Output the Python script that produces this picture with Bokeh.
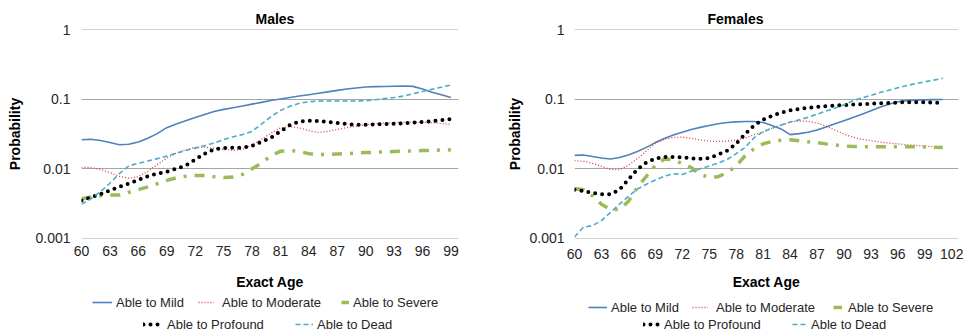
from bokeh.plotting import figure
from bokeh.models import (Range1d, FixedTicker, CustomJSTickFormatter, Legend,
                          LegendItem, ColumnDataSource)
from bokeh.layouts import row, column
from bokeh.embed import file_html
from bokeh.resources import INLINE

FONT = "Liberation Sans"

# ---------------- data ----------------
SERIES_NAMES = ["Able to Mild", "Able to Moderate", "Able to Severe",
                "Able to Profound", "Able to Dead"]
Y_TICKS = [0.001, 0.01, 0.1, 1]

MALE_AGES = list(range(60, 100))
MALE_TICKS = [60, 63, 66, 69, 72, 75, 78, 81, 84, 87, 90, 93, 96, 99]
MALE_MILD = [0.0262, 0.0266, 0.0255, 0.0238, 0.0222, 0.0225, 0.0243, 0.0275, 0.0320, 0.0390,
             0.0440, 0.0490, 0.0545, 0.0605, 0.0665, 0.0715, 0.0755, 0.0800, 0.0850, 0.0900,
             0.0960, 0.1010, 0.1060, 0.1110, 0.1160, 0.1215, 0.1275, 0.1340, 0.1400, 0.1450,
             0.1500, 0.1515, 0.1525, 0.1535, 0.1545, 0.1530, 0.1400, 0.1260, 0.1160, 0.1060]
MALE_MODERATE = [0.0105, 0.0104, 0.0098, 0.0088, 0.0078, 0.0073, 0.0077, 0.0092, 0.0115, 0.0142,
                 0.0168, 0.0188, 0.0203, 0.0205, 0.0197, 0.0190, 0.0184, 0.0190, 0.0220, 0.0265,
                 0.0325, 0.0385, 0.0405, 0.0385, 0.0355, 0.0333, 0.0345, 0.0368, 0.0390, 0.0412,
                 0.0430, 0.0445, 0.0458, 0.0463, 0.0467, 0.0467, 0.0465, 0.0458, 0.0448, 0.0437]
MALE_SEVERE = [0.0037, 0.0039, 0.0041, 0.0042, 0.0042, 0.0046, 0.0050, 0.0055, 0.0061, 0.0068,
               0.0074, 0.0078, 0.0080, 0.0080, 0.0077, 0.0075, 0.0076, 0.0083, 0.0100, 0.0120,
               0.0155, 0.0178, 0.0183, 0.0177, 0.0165, 0.0160, 0.0161, 0.0163, 0.0165, 0.0168,
               0.0171, 0.0173, 0.0175, 0.0177, 0.0179, 0.0181, 0.0183, 0.0184, 0.0186, 0.0187]
MALE_PROFOUND = [0.0035, 0.0039, 0.0043, 0.0049, 0.0055, 0.0061, 0.0069, 0.0078, 0.0085, 0.0091,
                 0.0100, 0.0111, 0.0135, 0.0165, 0.0190, 0.0198, 0.0200, 0.0202, 0.0212, 0.0245,
                 0.0280, 0.0345, 0.0425, 0.0480, 0.0490, 0.0485, 0.0470, 0.0455, 0.0440, 0.0430,
                 0.0430, 0.0435, 0.0440, 0.0445, 0.0450, 0.0460, 0.0470, 0.0482, 0.0500, 0.0520]
MALE_DEAD = [0.0031, 0.0037, 0.0047, 0.0062, 0.0085, 0.0110, 0.0120, 0.0129, 0.0140, 0.0152,
             0.0167, 0.0183, 0.0198, 0.0214, 0.0235, 0.0262, 0.0288, 0.0310, 0.0345, 0.0440,
             0.0560, 0.0690, 0.0790, 0.0875, 0.0920, 0.0940, 0.0945, 0.0945, 0.0945, 0.0945,
             0.0950, 0.0980, 0.1020, 0.1060, 0.1110, 0.1200, 0.1290, 0.1390, 0.1490, 0.1600]

FEMALE_AGES = list(range(60, 102))
FEMALE_TICKS = [60, 63, 66, 69, 72, 75, 78, 81, 84, 87, 90, 93, 96, 99, 102]
FEMALE_MILD = [0.0156, 0.0158, 0.0150, 0.0143, 0.0138, 0.0145, 0.0158, 0.0177, 0.0203, 0.0238,
               0.0272, 0.0306, 0.0336, 0.0366, 0.0394, 0.0420, 0.0444, 0.0462, 0.0473, 0.0478,
               0.0478, 0.0462, 0.0420, 0.0374, 0.0310, 0.0320, 0.0335, 0.0360, 0.0400, 0.0445,
               0.0490, 0.0545, 0.0610, 0.0685, 0.0765, 0.0845, 0.0920, 0.0955, 0.0970, 0.0980,
               0.0985, 0.0990]
FEMALE_MODERATE = [0.0131, 0.0128, 0.0120, 0.0108, 0.0098, 0.0097, 0.0112, 0.0140, 0.0180, 0.0232,
                   0.0265, 0.0282, 0.0285, 0.0275, 0.0260, 0.0250, 0.0247, 0.0250, 0.0260, 0.0275,
                   0.0310, 0.0340, 0.0385, 0.0420, 0.0470, 0.0488, 0.0480, 0.0455, 0.0410, 0.0360,
                   0.0315, 0.0285, 0.0265, 0.0254, 0.0242, 0.0234, 0.0228, 0.0222, 0.0217, 0.0212,
                   0.0207, 0.0204]
FEMALE_SEVERE = [0.0052, 0.0050, 0.0041, 0.0031, 0.0026, 0.0026, 0.0034, 0.0054, 0.0078, 0.0112,
                 0.0138, 0.0135, 0.0119, 0.0104, 0.0083, 0.0075, 0.0077, 0.0088, 0.0110, 0.0154,
                 0.0195, 0.0228, 0.0248, 0.0258, 0.0262, 0.0253, 0.0245, 0.0238, 0.0228, 0.0220,
                 0.0213, 0.0209, 0.0208, 0.0208, 0.0208, 0.0208, 0.0208, 0.0208, 0.0207, 0.0206,
                 0.0204, 0.0203]
FEMALE_PROFOUND = [0.0050, 0.0048, 0.0045, 0.0043, 0.0043, 0.0050, 0.0070, 0.0098, 0.0123, 0.0140,
                   0.0148, 0.0148, 0.0146, 0.0141, 0.0139, 0.0142, 0.0160, 0.0182, 0.0230, 0.0315,
                   0.0420, 0.0510, 0.0580, 0.0640, 0.0690, 0.0725, 0.0755, 0.0777, 0.0792, 0.0808,
                   0.0825, 0.0838, 0.0849, 0.0860, 0.0872, 0.0884, 0.0897, 0.0905, 0.0907, 0.0900,
                   0.0890, 0.0880]
FEMALE_DEAD = [0.00105, 0.00145, 0.00152, 0.00180, 0.00235, 0.0031, 0.0040, 0.0051, 0.0060, 0.0069,
               0.0078, 0.0085, 0.0083, 0.0092, 0.0100, 0.0110, 0.0121, 0.0136, 0.0165, 0.0203,
               0.0280, 0.0340, 0.0385, 0.0425, 0.0470, 0.0505, 0.0550, 0.0610, 0.0675, 0.0745,
               0.0835, 0.0950, 0.1040, 0.1140, 0.1250, 0.1350, 0.1460, 0.1570, 0.1680, 0.1780,
               0.1880, 0.2000]

# ---------------- styles ----------------
STYLES = [
    dict(line_color="#4F81BD", line_width=1.6),
    dict(line_color="#E0393E", line_width=1.3, line_dash="1 2"),
    dict(line_color="#9BBB59", line_width=3.5, line_dash="10 8 3 8"),
    dict(line_color="#000000", line_width=4, line_dash="0 7", line_cap="round"),
    dict(line_color="#4BACC6", line_width=1.6, line_dash="5 3"),
]
TEXT_COLOR = "#262626"
TOP_H = 292
LEG_H = 40
FRAME_TOP = 29
FRAME_BOTTOM = 238


def make_panel(title, ages, values, xmax, ticks, width, height, border_lr,
               title_offset, title_standoff, ytick_standoff, ylab_standoff,
               xtick_standoff, xlab_standoff):
    bl, br = border_lr
    p = figure(width=width, height=height, y_axis_type="log",
               x_range=Range1d(60, xmax), y_range=Range1d(0.000995, 1.005),
               output_backend="svg", toolbar_location=None,
               min_border_left=bl, min_border_right=br,
               min_border_top=FRAME_TOP, min_border_bottom=height - FRAME_BOTTOM,
               title=title)
    p.outline_line_color = None
    p.background_fill_color = "white"
    p.border_fill_color = "white"

    p.title.align = "left"
    p.title.offset = title_offset
    p.title.standoff = title_standoff
    p.title.vertical_align = "bottom"
    p.title.text_font = FONT
    p.title.text_font_size = "14px"
    p.title.text_font_style = "bold"
    p.title.text_color = "#000000"

    yt = FixedTicker(ticks=Y_TICKS)
    p.yaxis.ticker = yt
    p.ygrid.ticker = yt
    p.yaxis.formatter = CustomJSTickFormatter(code="return String(tick);")
    p.xaxis.ticker = FixedTicker(ticks=ticks)

    for ax in (p.xaxis, p.yaxis):
        ax.axis_line_color = None
        ax.major_tick_line_color = None
        ax.minor_tick_line_color = None
        ax.major_label_text_font = FONT
        ax.major_label_text_font_size = "14px"
        ax.major_label_text_color = TEXT_COLOR
        ax.axis_label_text_font = FONT
        ax.axis_label_text_font_size = "14px"
        ax.axis_label_text_font_style = "bold"
        ax.axis_label_text_color = "#000000"
    p.yaxis.axis_label = "Probability"
    p.xaxis.axis_label = "Exact Age"
    p.yaxis.major_label_standoff = ytick_standoff
    p.yaxis.axis_label_standoff = ylab_standoff
    p.xaxis.major_label_standoff = xtick_standoff
    p.xaxis.axis_label_standoff = xlab_standoff

    p.xgrid.visible = False
    p.ygrid.grid_line_color = "#A6A6A6"
    p.ygrid.grid_line_width = 1

    data = {"age": ages}
    for i, v in enumerate(values):
        data["s%d" % i] = v
    src = ColumnDataSource(data)
    for i in range(len(values)):
        p.line(x="age", y="s%d" % i, source=src, line_join="round", **STYLES[i])
    return p


males = make_panel(
    "Males", MALE_AGES,
    [MALE_MILD, MALE_MODERATE, MALE_SEVERE, MALE_PROFOUND, MALE_DEAD],
    99.8, MALE_TICKS, 483, TOP_H, (81, 25),
    title_offset=174, title_standoff=6, ytick_standoff=5, ylab_standoff=9,
    xtick_standoff=1, xlab_standoff=15)

females = make_panel(
    "Females", FEMALE_AGES,
    [FEMALE_MILD, FEMALE_MODERATE, FEMALE_SEVERE, FEMALE_PROFOUND, FEMALE_DEAD],
    102.75, FEMALE_TICKS, 483, TOP_H, (91, 8),
    title_offset=133, title_standoff=6, ytick_standoff=4, ylab_standoff=3,
    xtick_standoff=4, xlab_standoff=12)

# ---------------- legend strip (legend swatches only, no visible data) ----------------
leg = figure(width=966, height=LEG_H, x_range=Range1d(0, 1), y_range=Range1d(0, 1),
             output_backend="svg", toolbar_location=None,
             x_axis_location=None, y_axis_location=None,
             min_border_left=0, min_border_right=0, min_border_top=0, min_border_bottom=0)
leg.outline_line_color = None
leg.grid.visible = False
blank = ColumnDataSource(dict(x=[float("nan")], y=[float("nan")]))
swatches = [leg.line(x="x", y="y", source=blank, **STYLES[i]) for i in range(5)]

# (series index, glyph left x, row centre y, glyph width, label standoff)
LEGEND_POS = [
    (0, 92, 302, 20, 4), (1, 198, 302, 16, 8), (2, 341, 302, 8, 4),
    (3, 143, 324, 19, 5), (4, 295, 324, 18, 4),
    (0, 588, 307, 19, 4), (1, 692, 307, 16, 8), (2, 833, 307, 9, 6),
    (3, 643, 324, 17, 4), (4, 792, 324, 15, 4),
]
for idx, gx, yc, gw, so in LEGEND_POS:
    lg = Legend(items=[LegendItem(label=SERIES_NAMES[idx], renderers=[swatches[idx]])],
                location=(gx, TOP_H + LEG_H - yc - 8), orientation="horizontal",
                glyph_width=gw, glyph_height=16, label_height=16,
                label_standoff=so, padding=0, margin=0, spacing=0,
                border_line_color=None, background_fill_alpha=0,
                label_text_font=FONT, label_text_font_size="13px",
                label_text_color=TEXT_COLOR)
    leg.add_layout(lg)

layout = column(row(males, females), leg)
open("out.html", "w").write(file_html(layout, INLINE))
